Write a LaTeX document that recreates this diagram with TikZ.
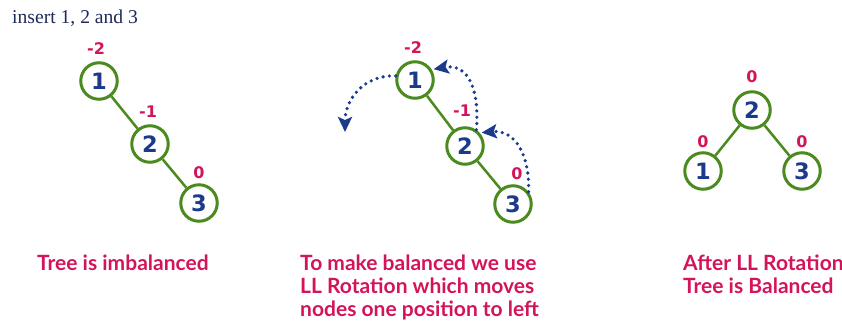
\documentclass[tikz,border=0pt]{standalone}
\usepackage{fontspec}
\setmainfont{Lato}
\newfontfamily\serifx{Liberation Serif}
\newfontfamily\numfont{DejaVu Sans}
\usetikzlibrary{arrows.meta}
\definecolor{treegreen}{HTML}{4A8A1E}
\definecolor{numblue}{HTML}{1B3A8C}
\definecolor{bfpink}{HTML}{D4145A}
\definecolor{topnavy}{HTML}{1E2A5A}
\tikzset{
  tnode/.style={circle,draw=treegreen,line width=3pt,minimum size=36.5pt,inner sep=0pt,
    font=\numfont\fontsize{22.5}{22.5}\selectfont\bfseries,text=numblue,fill=white},
  bflabel/.style={font=\numfont\fontsize{16}{16}\selectfont\bfseries,text=bfpink},
  edge/.style={draw=treegreen,line width=2.5pt},
  caption/.style={font=\fontsize{21}{23}\selectfont\bfseries,text=bfpink,align=left,anchor=north west,inner sep=0pt},
  rotarrow/.style={draw=numblue,line width=3.6pt,dash pattern=on 0pt off 6.3pt,line cap=round,
    -{Stealth[length=15pt,width=14pt,inset=3pt,fill=numblue,line cap=butt,sep=2pt]}}
}
\begin{document}
\begin{tikzpicture}[x=1pt,y=-1pt]
\useasboundingbox (0,0) rectangle (842,322);
\node[anchor=west,inner sep=0pt,text=topnavy,font=\serifx\fontsize{19.6}{19.6}\selectfont] (title) at (12,18) {insert 1, 2 and 3};
% left tree
\node[tnode] (a1) at (99,81) {1};
\node[tnode] (a2) at (150,144) {2};
\node[tnode] (a3) at (199,203) {3};
\draw[edge] (a1) -- (a2);
\draw[edge] (a2) -- (a3);
\node[bflabel] (la1) at (96,49) {-2};
\node[bflabel] (la2) at (148,112) {-1};
\node[bflabel] (la3) at (199,173) {0};
% middle tree
\node[tnode] (m1) at (415,80) {1};
\node[tnode] (m2) at (465,146) {2};
\node[tnode] (m3) at (513,204) {3};
\draw[edge] (m1) -- (m2);
\draw[edge] (m2) -- (m3);
\node[bflabel] (lm1) at (413,48) {-2};
\node[bflabel] (lm2) at (462,111) {-1};
\node[bflabel] (lm3) at (517,174) {0};
\coordinate (tipL) at (345,134);
\draw[rotarrow] (m1.168) to[out=178,in=90,looseness=1.1] (tipL);
\draw[rotarrow] (m3.38) to[out=88,in=5,looseness=1.2] (m2.42);
\draw[rotarrow] (m2.55) to[out=85,in=10,looseness=1.3] (m1.32);
% right tree
\node[tnode] (r2) at (752,110) {2};
\node[tnode] (r1) at (703,171) {1};
\node[tnode] (r3) at (802,171) {3};
\draw[edge] (r2) -- (r1);
\draw[edge] (r2) -- (r3);
\node[bflabel] (lr2) at (752,77) {0};
\node[bflabel] (lr1) at (703,142) {0};
\node[bflabel] (lr3) at (802,142) {0};
% captions
\node[caption] (c1) at (37,254.5) {Tree is imbalanced};
\node[caption] (c2) at (300,254.5) {To make balanced we use\\LL Rotation which moves\\nodes one position to left};
\node[caption] (c3) at (683,254.5) {After LL Rotation\\Tree is Balanced};
\end{tikzpicture}
\end{document}
